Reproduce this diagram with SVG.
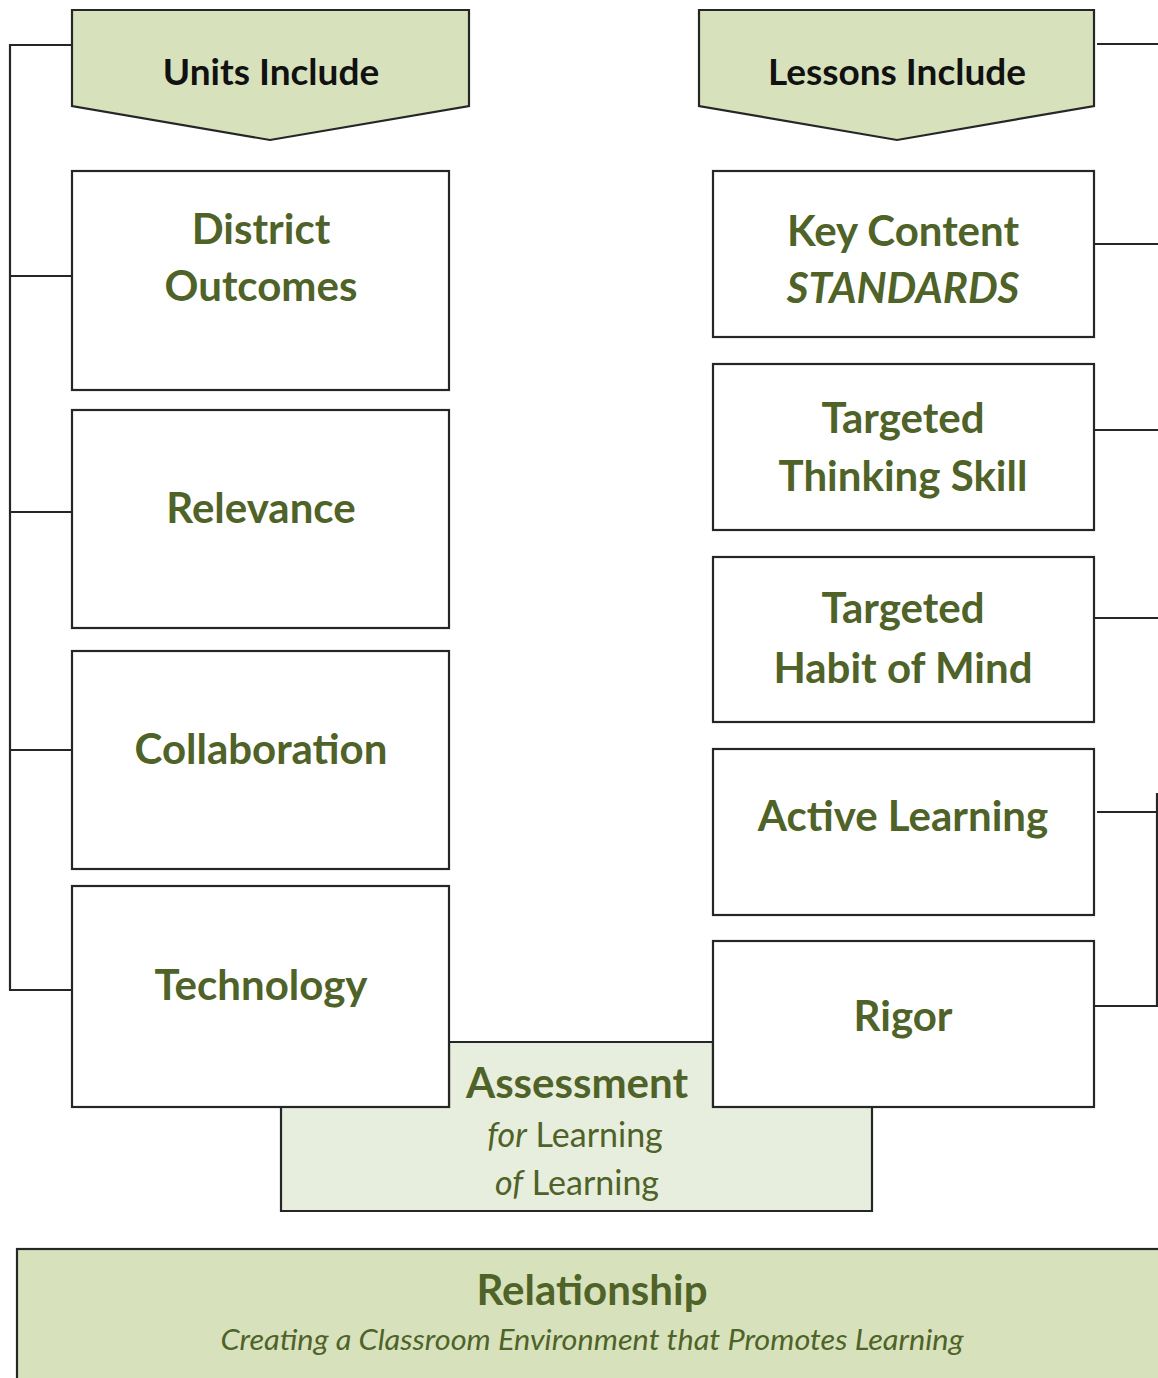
<svg xmlns="http://www.w3.org/2000/svg" width="1158" height="1378" viewBox="0 0 1158 1378">
<style>
.box{fill:#ffffff;stroke:#262626;stroke-width:2.2}
.hdr{fill:#d7e2bd;stroke:#262626;stroke-width:2.2}
.conn{fill:none;stroke:#262626;stroke-width:2.2}
.t{font-family:Lato,"Liberation Sans",sans-serif;font-weight:bold;fill:#4f6228;text-anchor:middle;font-size:42px}
.h{font-family:Lato,"Liberation Sans",sans-serif;font-weight:bold;fill:#111111;text-anchor:middle;font-size:37px}
.s{font-family:Lato,"Liberation Sans",sans-serif;font-weight:normal;fill:#4f6228;text-anchor:middle;font-size:34px}
</style>
<rect width="1158" height="1378" fill="#ffffff"/>
<g id="connectors">
<path class="conn" d="M73 45 H10 V990 H73 M10 276 H73 M10 512 H73 M10 750 H73"/>
<path class="conn" d="M1097 44 H1158 M1094 244 H1158 M1094 430 H1158 M1094 618 H1158 M1097 812 H1157 V1006 H1094 M1157 793 V812"/>
</g>
<g id="units-include">
<path class="hdr" d="M72 10 H469 V106 L270 140 L72 106 Z"/>
<text class="h" x="271" y="85">Units Include</text>
</g>
<g id="lessons-include">
<path class="hdr" d="M699 10 H1094 V106 L897 140 L699 106 Z"/>
<text class="h" x="897" y="85">Lessons Include</text>
</g>
<g id="district-outcomes">
<rect class="box" x="72" y="171" width="377" height="219"/>
<text class="t" x="261" y="244">District</text>
<text class="t" x="261" y="301">Outcomes</text>
</g>
<g id="relevance">
<rect class="box" x="72" y="410" width="377" height="218"/>
<text class="t" x="261" y="523">Relevance</text>
</g>
<g id="collaboration">
<rect class="box" x="72" y="651" width="377" height="218"/>
<text class="t" x="261" y="764">Collaboration</text>
</g>
<g id="assessment">
<path d="M449 1042 H713 V1107 H872 V1211 H281 V1107 H449 Z" fill="#e8eedd" stroke="#262626" stroke-width="2.2"/>
<text class="t" x="577" y="1098">Assessment</text>
<text class="s" x="575" y="1147"><tspan font-style="italic">for</tspan> Learning</text>
<text class="s" x="577" y="1195"><tspan font-style="italic">of</tspan> Learning</text>
</g>
<g id="technology">
<rect class="box" x="72" y="886" width="377" height="221"/>
<text class="t" x="261" y="1000">Technology</text>
</g>
<g id="key-content">
<rect class="box" x="713" y="171" width="381" height="166"/>
<text class="t" x="903" y="246">Key Content</text>
<text class="t" x="903" y="303" font-style="italic">STANDARDS</text>
</g>
<g id="targeted-thinking-skill">
<rect class="box" x="713" y="364" width="381" height="166"/>
<text class="t" x="903" y="433">Targeted</text>
<text class="t" x="903" y="491">Thinking Skill</text>
</g>
<g id="targeted-habit-of-mind">
<rect class="box" x="713" y="557" width="381" height="165"/>
<text class="t" x="903" y="623">Targeted</text>
<text class="t" x="903" y="683">Habit of Mind</text>
</g>
<g id="active-learning">
<rect class="box" x="713" y="749" width="381" height="166"/>
<text class="t" x="903" y="831">Active Learning</text>
</g>
<g id="rigor">
<rect class="box" x="713" y="941" width="381" height="166"/>
<text class="t" x="903" y="1031">Rigor</text>
</g>
<g id="relationship">
<rect x="17" y="1249" width="1160" height="150" fill="#d7e2bd" stroke="#262626" stroke-width="2.2"/>
<text class="t" x="592" y="1305">Relationship</text>
<text class="s" x="592" y="1350" font-style="italic" style="font-size:29px" textLength="743" lengthAdjust="spacingAndGlyphs">Creating a Classroom Environment that Promotes Learning</text>
</g>
</svg>
